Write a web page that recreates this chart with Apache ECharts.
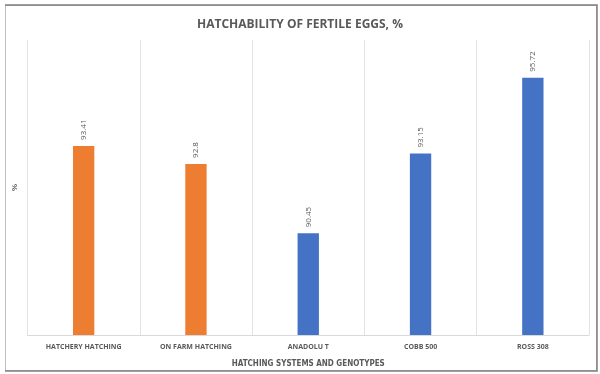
<!DOCTYPE html>
<html>
<head>
<meta charset="utf-8">
<script src="https://cdn.jsdelivr.net/npm/echarts@6/dist/echarts.min.js"></script>
<style>
  html, body { margin: 0; padding: 0; background: #fff; }
  #chart { width: 600px; height: 374px; }
</style>
</head>
<body>
<div id="chart"></div>
<script>
var categories = ['HATCHERY HATCHING', 'ON FARM HATCHING', 'ANADOLU T', 'COBB 500', 'ROSS 308'];
var values = [93.41, 92.8, 90.45, 93.15, 95.72];
// first two are hatching systems, the rest genotypes
var groups = ['system', 'system', 'genotype', 'genotype', 'genotype'];

var groupColor = { system: '#ED7D31', genotype: '#4472C4' };

var myChart = echarts.init(document.getElementById('chart'));

myChart.setOption({
    animation: false,
    title: {
        text: 'HATCHABILITY OF FERTILE EGGS, %',
        left: 'center',
        top: 14,
        textStyle: {
            fontFamily: 'Open Sans',
            fontSize: 12,
            fontWeight: 'bold',
            color: '#595959'
        }
    },
    graphic: [
        {
            type: 'rect',
            shape: { x: 5.5, y: 5.5, width: 591, height: 365 },
            style: { fill: 'none', stroke: '#bfbfbf', lineWidth: 1 },
            z: -1
        },
        {
            type: 'polyline',
            shape: { points: [[5, 5], [597, 5], [597, 371], [5, 371]] },
            style: { fill: 'none', stroke: '#7f7f7f', lineWidth: 1.5 },
            z: -1
        }
    ],
    grid: {
        left: 27.5,
        right: 11,
        top: 40,
        bottom: 39
    },
    xAxis: {
        type: 'category',
        data: categories,
        name: 'HATCHING SYSTEMS AND GENOTYPES',
        nameLocation: 'middle',
        nameGap: 25,
        nameTextStyle: {
            fontFamily: 'DejaVu Sans Condensed',
            fontSize: 8,
            fontWeight: 'bold',
            color: '#595959'
        },
        axisLine: { lineStyle: { color: '#d9d9d9' } },
        axisTick: { show: false },
        splitLine: { show: true, interval: 0, lineStyle: { color: '#e3e3e3' } },
        axisLabel: {
            interval: 0,
            margin: 8,
            fontFamily: 'Open Sans',
            fontSize: 7,
            fontWeight: 'bold',
            color: '#595959'
        }
    },
    yAxis: {
        type: 'value',
        min: 87,
        max: 97,
        name: '%',
        nameLocation: 'middle',
        nameRotate: 90,
        nameGap: 9,
        nameTextStyle: { fontSize: 8, fontWeight: 'bold', color: '#595959' },
        axisLine: { show: false },
        axisTick: { show: false },
        axisLabel: { show: false },
        splitLine: { show: false }
    },
    series: [
        {
            type: 'bar',
            data: values,
            barWidth: '19%',
            itemStyle: {
                color: function (p) { return groupColor[groups[p.dataIndex]]; }
            },
            label: {
                show: true,
                position: 'top',
                rotate: 90,
                align: 'left',
                verticalAlign: 'middle',
                distance: 6,
                fontFamily: 'Open Sans',
                fontSize: 8,
                color: '#595959'
            }
        }
    ]
});
</script>
</body>
</html>
